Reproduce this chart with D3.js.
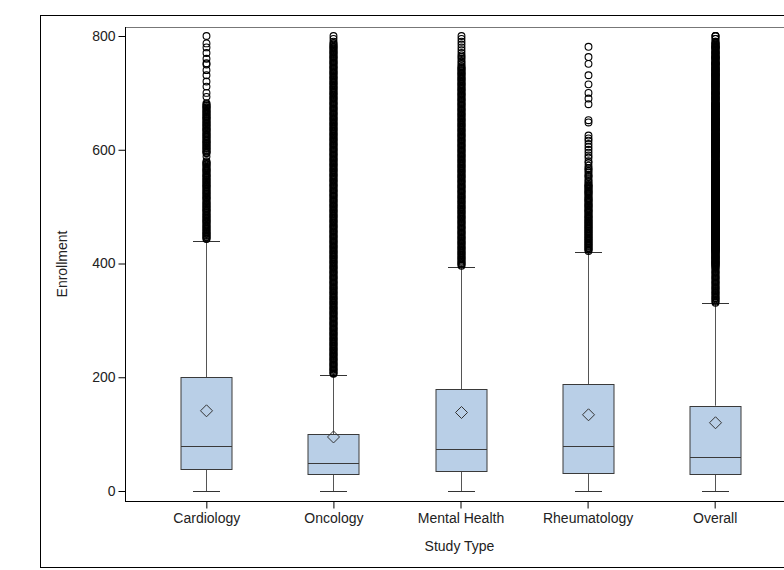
<!DOCTYPE html>
<html>
<head>
<meta charset="utf-8">
<script src="https://cdn.jsdelivr.net/npm/d3@7"></script>
<style>
  html, body { margin: 0; padding: 0; background: #fff; }
  svg { display: block; }
  text { font-family: "Liberation Sans", Arial, sans-serif; fill: #222; }
</style>
</head>
<body>
<svg id="chart" width="784" height="570"></svg>
<script>
// Enrollment by study type: box statistics
const categories = ["Cardiology", "Oncology", "Mental Health", "Rheumatology", "Overall"];
const whiskerLow  = [0, 0, 0, 0, 0];
const q1          = [38, 30, 36, 32, 30];
const median      = [80, 50, 74, 80, 60];
const q3          = [200, 100, 179, 188, 150];
const mean        = [141, 95, 138, 134, 120];
const whiskerHigh = [440, 204, 394, 420, 330];
const yTicks = [0, 200, 400, 600, 800];

// Outlying enrollments for each study type
const cardiologyOutliers = [443,444,446,447,449,450,452,453,455,456,458,460,461,463,465,466,468,470,472,473,475,476,478,480,481,483,485,486,488,490,492,493,495,496,498,500,501,503,505,506,508,510,512,514,515,517,518,520,522,523,525,527,528,530,532,534,535,537,538,540,542,543,545,547,548,550,552,553,555,556,558,560,562,563,565,566,568,570,572,574,575,577,578,580,588,594,595,597,598,600,602,603,605,607,608,610,612,613,615,616,618,620,622,623,625,627,628,630,632,634,635,637,638,640,642,643,645,647,648,650,652,654,655,657,658,660,662,663,665,667,668,670,672,674,675,677,678,680,682,693,700,711,720,731,740,750,752,760,770,780,787,800];

const oncologyOutliers = [206,207,209,211,213,214,216,218,220,222,223,225,227,229,231,232,234,236,238,240,241,243,245,247,249,250,252,254,256,258,259,261,263,265,267,268,270,272,274,276,277,279,281,283,285,286,288,290,292,294,295,297,299,301,303,304,306,308,310,312,313,315,317,319,321,322,324,326,328,330,331,333,335,337,339,340,342,344,346,348,349,351,353,355,357,358,360,362,364,366,367,369,371,373,375,376,378,380,382,384,385,387,389,391,393,394,396,398,400,402,403,405,407,409,411,412,414,416,418,420,421,423,425,427,429,430,432,434,436,438,439,441,443,445,447,448,450,452,454,456,457,459,461,463,465,466,468,470,472,474,475,477,479,481,483,484,486,488,490,492,493,495,497,499,501,502,504,506,508,510,511,513,515,517,519,520,522,524,526,528,529,531,533,535,537,538,540,542,544,546,547,549,551,553,555,556,558,560,562,564,565,567,569,571,573,574,576,578,580,582,583,585,587,589,591,592,594,596,598,600,601,603,605,607,609,610,612,614,616,618,619,621,623,625,627,628,630,632,634,636,637,639,641,643,645,646,648,650,652,654,655,657,659,661,663,664,666,668,670,672,673,675,677,679,681,682,684,686,688,690,691,693,695,697,699,700,702,704,706,708,709,711,713,715,717,718,720,722,724,726,727,729,731,733,735,736,738,740,742,744,745,747,749,751,753,754,756,758,760,762,763,765,767,769,771,772,774,776,778,780,781,783,785,787,790,795,800];

const mentalHealthOutliers = [396,398,400,401,403,405,407,409,410,412,414,416,418,419,421,423,425,427,428,430,432,434,436,437,439,441,443,445,446,448,450,452,454,455,457,459,461,463,464,466,468,470,472,473,475,477,479,481,482,484,486,488,490,491,493,495,497,499,500,502,504,506,508,509,511,513,515,517,518,520,522,524,526,527,529,531,533,535,536,538,540,542,544,545,547,549,551,553,554,556,558,560,562,563,565,567,569,571,572,574,576,578,580,581,583,585,587,589,590,592,594,596,598,599,601,603,605,607,608,610,612,614,616,617,619,621,623,625,626,628,630,632,634,635,637,639,641,643,644,646,648,650,652,653,655,657,659,661,662,664,666,668,670,671,673,675,677,679,680,682,684,686,688,689,691,693,695,697,698,700,702,704,706,707,709,711,713,715,716,718,720,722,724,725,727,729,731,733,734,736,738,740,742,743,745,747,750,753,756,760,763,766,770,775,780,785,790,795,800];

const rheumatologyOutliers = [422,424,425,427,428,430,431,433,434,436,437,439,440,442,443,445,446,448,449,451,452,454,455,457,458,460,461,463,464,466,467,469,470,472,473,475,476,478,480,481,483,484,486,488,490,491,493,494,496,498,500,501,503,504,506,508,510,511,513,514,516,518,520,522,524,525,527,528,530,532,534,535,537,538,540,543,545,548,552,554,556,560,563,566,568,572,577,580,586,590,595,600,605,610,616,620,625,648,652,680,690,700,715,731,751,763,781];

// Values of all studies pooled that fall above the pooled upper whisker
const pooledAbove = [].concat(cardiologyOutliers, oncologyOutliers, mentalHealthOutliers, rheumatologyOutliers)
  .filter(v => v > whiskerHigh[4]);
const outliers = [cardiologyOutliers, oncologyOutliers, mentalHealthOutliers, rheumatologyOutliers, pooledAbove];

const stats = categories.map((c, i) => ({
  name: c, lo: whiskerLow[i], q1: q1[i], med: median[i], q3: q3[i],
  mean: mean[i], hi: whiskerHigh[i], out: outliers[i]
}));

const svg = d3.select("#chart");
const plot = { left: 125, top: 27, right: 796, bottom: 501 };

const x = d3.scalePoint().domain(categories).range([plot.left, plot.right]).padding(0.64);
const y = d3.scaleLinear().domain([0, 800]).range([491, 36]);

const boxW = 51, capW = 27;
const boxFill = "#b9cfe7", boxStroke = "#3a3a3a", lineColor = "#555";

// outer frame
svg.append("rect")
  .attr("x", 40.5).attr("y", 15.5)
  .attr("width", 800).attr("height", 552)
  .attr("fill", "none").attr("stroke", "#000").attr("stroke-width", 1);

// top edge of the plotting area
svg.append("line")
  .attr("x1", plot.left).attr("x2", plot.right + 10)
  .attr("y1", plot.top + 0.5).attr("y2", plot.top + 0.5)
  .attr("stroke", "#777").attr("stroke-width", 1);

// y axis
const yAxis = d3.axisLeft(y).tickValues(yTicks).tickSize(7).tickPadding(3);
const gy = svg.append("g").attr("transform", `translate(${plot.left + 0.5},0)`).call(yAxis);
gy.select(".domain").attr("d", `M0,${plot.top}V${plot.bottom}`).attr("stroke", "#000");
gy.selectAll(".tick line").attr("stroke", "#000");
gy.selectAll(".tick text").attr("font-size", "14px").attr("fill", "#222")
  .attr("font-family", "'Liberation Sans', Arial, sans-serif");

// x axis
const xAxis = d3.axisBottom(x).tickSize(7).tickPadding(5);
const gx = svg.append("g").attr("transform", `translate(0,${plot.bottom + 0.5})`).call(xAxis);
gx.select(".domain").attr("d", `M${plot.left},0H${plot.right + 10}`).attr("stroke", "#000");
gx.selectAll(".tick line").attr("stroke", "#000");
gx.selectAll(".tick text").attr("font-size", "14px").attr("fill", "#222")
  .attr("font-family", "'Liberation Sans', Arial, sans-serif");

// axis titles
svg.append("text")
  .attr("x", (plot.left + plot.right) / 2 - 1).attr("y", 551)
  .attr("text-anchor", "middle").attr("font-size", "14px")
  .text("Study Type");
svg.append("text")
  .attr("transform", `translate(67,${(plot.top + plot.bottom) / 2}) rotate(-90)`)
  .attr("text-anchor", "middle").attr("font-size", "14px")
  .text("Enrollment");

const g = svg.append("g").selectAll("g.box").data(stats).join("g").attr("class", "box");

// whiskers
g.append("line")
  .attr("x1", d => Math.round(x(d.name)) + 0.5).attr("x2", d => Math.round(x(d.name)) + 0.5)
  .attr("y1", d => y(d.hi)).attr("y2", d => y(d.q3))
  .attr("stroke", lineColor);
g.append("line")
  .attr("x1", d => Math.round(x(d.name)) + 0.5).attr("x2", d => Math.round(x(d.name)) + 0.5)
  .attr("y1", d => y(d.q1)).attr("y2", d => y(d.lo))
  .attr("stroke", lineColor);
g.selectAll("line.cap").data(d => [d.lo, d.hi].map(v => ({ name: d.name, v })))
  .join("line").attr("class", "cap")
  .attr("x1", d => Math.round(x(d.name)) - capW / 2 + 0.5)
  .attr("x2", d => Math.round(x(d.name)) + capW / 2 + 0.5)
  .attr("y1", d => Math.round(y(d.v)) + 0.5).attr("y2", d => Math.round(y(d.v)) + 0.5)
  .attr("stroke", "#333");

// boxes
g.append("rect")
  .attr("x", d => Math.round(x(d.name)) - boxW / 2 + 0.5)
  .attr("y", d => Math.round(y(d.q3)) + 0.5)
  .attr("width", boxW)
  .attr("height", d => Math.round(y(d.q1)) - Math.round(y(d.q3)))
  .attr("fill", boxFill).attr("stroke", boxStroke);
g.append("line")
  .attr("x1", d => Math.round(x(d.name)) - boxW / 2 + 0.5)
  .attr("x2", d => Math.round(x(d.name)) + boxW / 2 + 0.5)
  .attr("y1", d => Math.round(y(d.med)) + 0.5).attr("y2", d => Math.round(y(d.med)) + 0.5)
  .attr("stroke", boxStroke);

// mean markers
const dm = 6;
g.append("path")
  .attr("d", d => {
    const cx = Math.round(x(d.name)) + 0.5, cy = y(d.mean);
    return `M${cx},${cy - dm}L${cx + dm},${cy}L${cx},${cy + dm}L${cx - dm},${cy}Z`;
  })
  .attr("fill", "none").attr("stroke", "#333");

// outliers
g.selectAll("circle").data(d => d.out.map(v => ({ name: d.name, v })))
  .join("circle")
  .attr("cx", d => Math.round(x(d.name)) + 0.5)
  .attr("cy", d => y(d.v))
  .attr("r", 3.4)
  .attr("fill", "none").attr("stroke", "#000").attr("stroke-width", 1.1);
</script>
</body>
</html>
